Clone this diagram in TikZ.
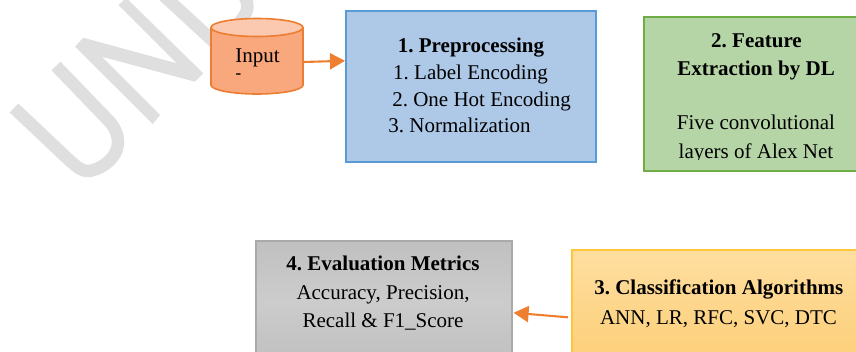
\documentclass[tikz,border=0pt]{standalone}
\usepackage{fontspec}
\setmainfont{Liberation Serif}
\usetikzlibrary{arrows.meta}
\definecolor{wm}{HTML}{DFDFDF}
\definecolor{org}{HTML}{ED7D31}
\definecolor{conncol}{HTML}{EE7F30}
\definecolor{cylbody}{HTML}{F9A77D}
\definecolor{cylend}{HTML}{FBC8B0}
\definecolor{blueline}{HTML}{5B9BD5}
\definecolor{bluefill}{HTML}{AEC9E8}
\definecolor{greenline}{HTML}{70AD47}
\definecolor{greenfill}{HTML}{B5D5A7}
\definecolor{grayline}{HTML}{AAAAAA}
\definecolor{grayedge}{HTML}{C0C0C0}
\definecolor{graymid}{HTML}{CCCCCC}
\definecolor{yelline}{HTML}{FFC63C}
\definecolor{yeltop}{HTML}{FEDEA0}
\definecolor{yelbot}{HTML}{FDCF78}
\tikzset{
  box/.style={draw, line width=1.6pt, anchor=north west, inner sep=0pt},
  txt/.style={anchor=base, inner sep=0pt, font=\fontsize{21}{24}\selectfont, text=black},
  head/.style={txt, font=\fontsize{21}{24}\selectfont\bfseries},
  conn/.style={draw=conncol, line width=2.1pt, -{Triangle[length=15pt,width=16pt]}},
  wmark/.style={draw=wm, line width=12.5pt}
}
\frenchspacing
\begin{document}
\begin{tikzpicture}[x=1pt,y=-1pt]
\useasboundingbox (0,0) rectangle (856,352);
\begin{scope}
\clip (0,0) rectangle (856,352);
% watermark
\draw[wmark] (14,108) -- (69,160) .. controls (78,168) and (82,171) .. (88,171) .. controls (97,171) and (118,160) .. (118,142) .. controls (118,132) and (112,124) .. (108,120) -- (56,66);
\fill[wm] (152.7,124) -- (75,46.7) -- (83.3,37.7) -- (176.7,63.3) -- (118.3,5) -- (124,0) -- (128.3,0) -- (203.3,73.3) -- (195,81.7) -- (101.7,56.7) -- (160,115) -- cycle;
\draw[wmark] (163,-5) -- (225,52);
\draw[wmark] (243,-6) .. controls (250,5) and (249,12) .. (238,24);
\end{scope}
% boxes
\node[box, draw=blueline, fill=bluefill, minimum width=250pt, minimum height=151pt] (prep) at (345,10) {};
\node[box, draw=greenline, fill=greenfill, minimum width=224pt, minimum height=154pt] (feat) at (643,16) {};
\node[box, draw=grayline, top color=grayedge, bottom color=grayedge, middle color=graymid, minimum width=256pt, minimum height=120pt] (eval) at (255,240) {};
\node[box, draw=yelline, top color=yeltop, bottom color=yelbot, minimum width=290pt, minimum height=112pt] (clas) at (571,249) {};
% cylinder
\node[inner sep=0pt, minimum width=92pt, minimum height=76pt] (cyl) at (257,56) {};
\draw[draw=org, fill=cylbody, line width=1.6pt] (211,27.5) -- (211,85) arc[start angle=180, end angle=0, x radius=46, y radius=9] -- (303,27.5);
\draw[draw=org, fill=cylend, line width=1.6pt] (257,27.5) ellipse [x radius=46, y radius=9];
% text
\node[txt] (t0) at (257.5,62.5) {Input};
\node[txt, font=\fontsize{17}{17}\selectfont\bfseries] (t0b) at (238.5,79) {-};
\node[head] (p0) at (471,53) {1. Preprocessing};
\node[txt] (p1) at (470.5,80) {1. Label Encoding};
\node[txt] (p2) at (481.5,107) {2. One Hot Encoding};
\node[txt] (p3) at (459.5,133) {3. Normalization};
\begin{scope}
\clip (640,14) rectangle (856,160);
\node[head] (f0) at (756.5,48) {2. Feature};
\node[head] (f1) at (756,76) {Extraction by DL};
\node[txt] (f2) at (756,130) {Five convolutional};
\node[txt] (f3) at (756,159) {layers of Alex Net};
\end{scope}
\node[head] (e0) at (383,271) {4. Evaluation Metrics};
\node[txt] (e1) at (383,299.5) {Accuracy, Precision,};
\node[txt] (e2) at (383,327) {Recall \& F1\_Score};
\node[head] (c0) at (718.8,295) {3. Classification Algorithms};
\node[txt] (c1) at (718.5,324) {ANN, LR, RFC, SVC, DTC};
% connectors
\draw[conn] ([yshift=-6pt]cyl.east) -- ([yshift=25.5pt]prep.west);
\draw[conn] ([xshift=-3pt,yshift=-11.5pt]clas.west) -- ([xshift=1pt,yshift=-12pt]eval.east);
\end{tikzpicture}
\end{document}
